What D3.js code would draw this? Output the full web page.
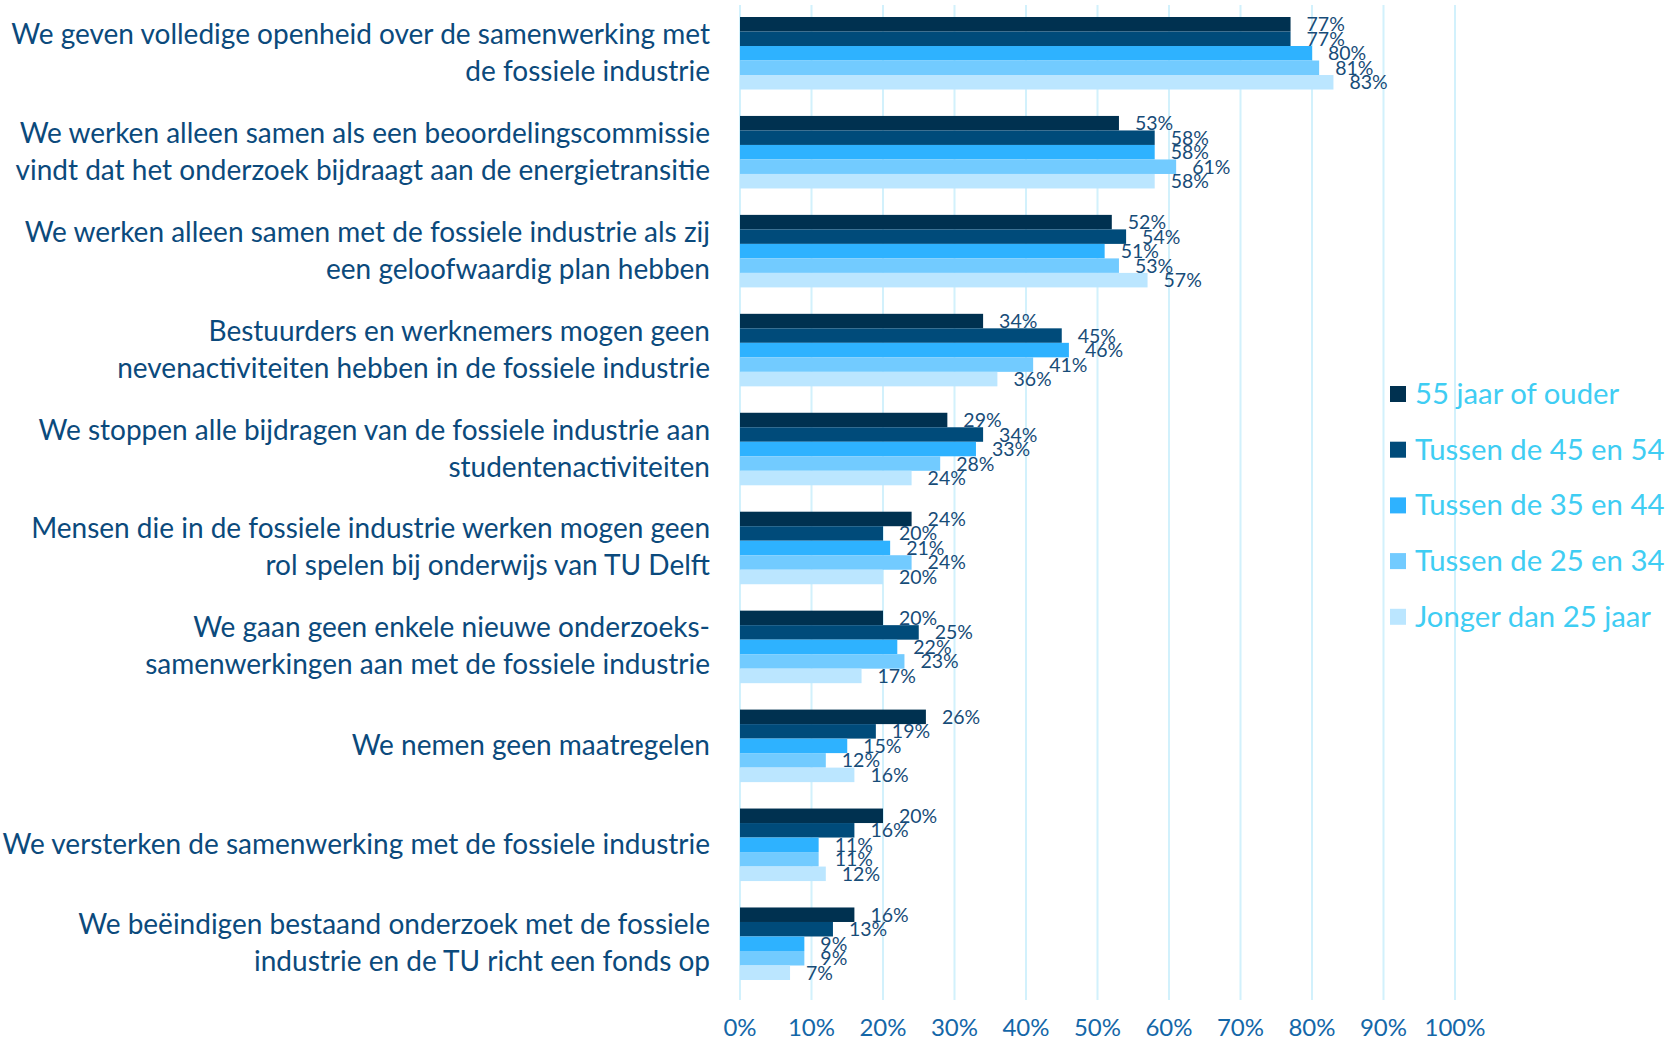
<!DOCTYPE html>
<html>
<head>
<meta charset="utf-8">
<script src="https://cdn.jsdelivr.net/npm/d3@7"></script>
<style>
  body { margin: 0; background: #ffffff; }
  svg { display: block; font-family: "Lato", "Open Sans", sans-serif; }
</style>
</head>
<body>
<div id="SVG"></div>
<script>
// Data
var categories = [
  ["We geven volledige openheid over de samenwerking met", "de fossiele industrie"],
  ["We werken alleen samen als een beoordelingscommissie", "vindt dat het onderzoek bijdraagt aan de energietransitie"],
  ["We werken alleen samen met de fossiele industrie als zij", "een geloofwaardig plan hebben"],
  ["Bestuurders en werknemers mogen geen", "nevenactiviteiten hebben in de fossiele industrie"],
  ["We stoppen alle bijdragen van de fossiele industrie aan", "studentenactiviteiten"],
  ["Mensen die in de fossiele industrie werken mogen geen", "rol spelen bij onderwijs van TU Delft"],
  ["We gaan geen enkele nieuwe onderzoeks-", "samenwerkingen aan met de fossiele industrie"],
  ["We nemen geen maatregelen"],
  ["We versterken de samenwerking met de fossiele industrie"],
  ["We beëindigen bestaand onderzoek met de fossiele", "industrie en de TU richt een fonds op"]
];

var seriesNames = ["55 jaar of ouder", "Tussen de 45 en 54", "Tussen de 35 en 44", "Tussen de 25 en 34", "Jonger dan 25 jaar"];

var age55plus = [77, 53, 52, 34, 29, 24, 20, 26, 20, 16];
var age45to54 = [77, 58, 54, 45, 34, 20, 25, 19, 16, 13];
var age35to44 = [80, 58, 51, 46, 33, 21, 22, 15, 11, 9];
var age25to34 = [81, 61, 53, 41, 28, 24, 23, 12, 11, 9];
var ageUnder25 = [83, 58, 57, 36, 24, 20, 17, 16, 12, 7];

var xTicks = [0, 10, 20, 30, 40, 50, 60, 70, 80, 90, 100];

var seriesValues = [age55plus, age45to54, age35to44, age25to34, ageUnder25];
var colors = ["#003150", "#004b7a", "#2eb2ff", "#72cbff", "#bbe6ff"];

// SVG area
var svgWidth = 1670;
var svgHeight = 1038;

var svg = d3.select("#SVG")
  .append("svg")
  .attr("width", svgWidth)
  .attr("height", svgHeight);

// Scales
var xScale = d3.scaleLinear().domain([0, 100]).range([740, 1455]);

var yBandScale = d3.scaleBand()
  .domain(d3.range(categories.length))
  .range([17, 980])
  .paddingInner(0.267)
  .paddingOuter(0);

var ySubScale = d3.scaleBand()
  .domain(d3.range(seriesNames.length))
  .range([0, yBandScale.bandwidth()]);

// Gridlines
svg.append("g")
  .selectAll("line")
  .data(xTicks)
  .enter()
  .append("line")
  .attr("x1", function (d) { return xScale(d); })
  .attr("x2", function (d) { return xScale(d); })
  .attr("y1", 5)
  .attr("y2", 1000)
  .attr("stroke", "#d2f1fc")
  .attr("stroke-width", 2);

// Bars
var groups = svg.append("g")
  .selectAll("g")
  .data(categories)
  .enter()
  .append("g")
  .attr("transform", function (d, i) { return "translate(0," + yBandScale(i) + ")"; });

groups.selectAll("rect")
  .data(function (d, i) {
    return seriesValues.map(function (s, j) { return { s: j, v: s[i] }; });
  })
  .enter()
  .append("rect")
  .attr("x", xScale(0))
  .attr("y", function (d) { return ySubScale(d.s); })
  .attr("width", function (d) { return xScale(d.v) - xScale(0); })
  .attr("height", ySubScale.bandwidth())
  .attr("fill", function (d) { return colors[d.s]; });

// Value labels
groups.selectAll("text.val")
  .data(function (d, i) {
    return seriesValues.map(function (s, j) { return { s: j, v: s[i] }; });
  })
  .enter()
  .append("text")
  .attr("class", "val")
  .attr("x", function (d) { return xScale(d.v) + 16; })
  .attr("y", function (d) { return ySubScale(d.s) + ySubScale.bandwidth() / 2 + 7; })
  .attr("font-size", 19.5)
  .attr("fill", "#174c78")
  .text(function (d) { return d.v + "%"; });

// Category labels
groups.append("text")
  .attr("text-anchor", "end")
  .attr("font-size", 28)
  .attr("fill", "#0b4a7c")
  .each(function (d) {
    var t = d3.select(this);
    var lineH = 37;
    var mid = yBandScale.bandwidth() / 2;
    d.forEach(function (line, k) {
      t.append("tspan")
        .attr("x", 710)
        .attr("y", mid + (k - (d.length - 1) / 2) * lineH + 9)
        .text(line);
    });
  });

// X axis labels
svg.append("g")
  .selectAll("text")
  .data(xTicks)
  .enter()
  .append("text")
  .attr("x", function (d) { return xScale(d); })
  .attr("y", 1036)
  .attr("text-anchor", "middle")
  .attr("font-size", 24)
  .attr("fill", "#1467a8")
  .text(function (d) { return d + "%"; });

// Legend
var legend = svg.append("g")
  .selectAll("g")
  .data(seriesNames)
  .enter()
  .append("g")
  .attr("transform", function (d, i) { return "translate(1390," + (394 + i * 55.7) + ")"; });

legend.append("rect")
  .attr("x", 0)
  .attr("y", -8)
  .attr("width", 16)
  .attr("height", 16)
  .attr("fill", function (d, i) { return colors[i]; });

legend.append("text")
  .attr("x", 25)
  .attr("y", 10)
  .attr("font-size", 29.3)
  .attr("fill", "#3fcdf3")
  .text(function (d) { return d; });
</script>
</body>
</html>
